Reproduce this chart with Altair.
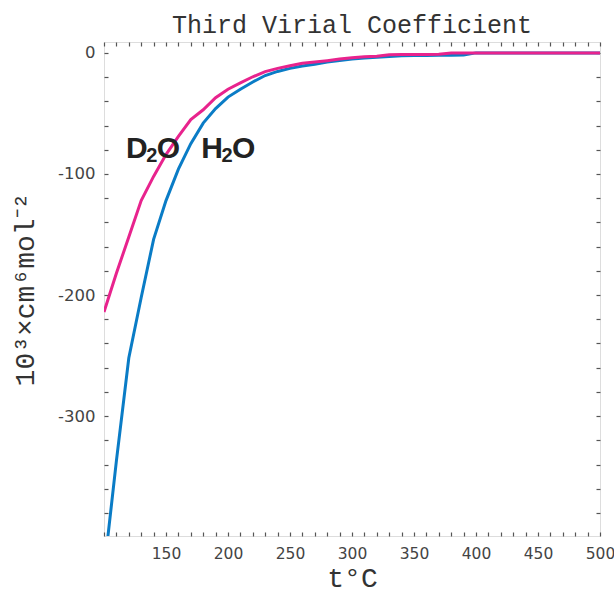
import altair as alt
import pandas as pd

temps = list(range(100, 501, 10))
h2o = [-428, -337, -252, -202, -154, -122, -96, -75, -58, -46, -36.5, -30, -24, -18.7,
       -15.3, -12.8, -10.9, -9.3, -7.6, -6.2, -5.0, -4.3, -3.6, -2.9, -2.4, -2.2, -2.1,
       -2.0, -2.0, -1.8, 0, 0, 0, 0, 0, 0, 0, 0, 0, 0, 0]
d2o = [-214, -182, -152, -122, -102, -84, -69, -55, -47, -37, -30, -24.8, -19.7, -15.5,
       -12.8, -10.6, -8.6, -7.5, -6.4, -5.1, -4.0, -3.2, -2.8, -1.6, -1.4, -1.4, -1.4,
       -1.2, 0, 0, 0, 0, 0, 0, 0, 0, 0, 0, 0, 0, 0]

# formula labels, split into main letters and subscripts
main_txt = ["D", "O", "H", "O"]
main_t = [126.4, 152.0, 187.1, 212.6]
main_v = [-86.8, -86.8, -86.8, -86.8]
sub_txt = ["2", "2"]
sub_t = [138.6, 199.2]
sub_v = [-89.8, -89.8]

x_ticks = list(range(100, 501, 10))
y_ticks = list(range(-380, 1, 20))

df_h = pd.DataFrame({"t": temps, "v": h2o})
df_d = pd.DataFrame({"t": temps, "v": d2o})
df_main = pd.DataFrame({"t": main_t, "v": main_v, "txt": main_txt})
df_sub = pd.DataFrame({"t": sub_t, "v": sub_v, "txt": sub_txt})

xs = alt.Scale(domain=[100, 500], nice=False, zero=False)
ys = alt.Scale(domain=[-399, 9], nice=False, zero=False)

axis_common = dict(domain=False, offset=-4, tickSize=4, tickColor="#555", tickWidth=1.2,
                   grid=False, labelFont="DejaVu Sans",
                   labelColor="#444", titleFont="Liberation Mono", titleFontSize=28,
                   titleFontWeight="normal", titleColor="#333")

x_axis = alt.Axis(orient="bottom", values=x_ticks,
                  labelExpr="datum.value % 50 == 0 && datum.value > 100 ? '' + datum.value : ''",
                  labelPadding=10, labelFontSize=15.5, title="t°C", titleX=248, titleY=54,
                  titleBaseline="alphabetic", labelFlush=False, labelOverlap=False, **axis_common)
y_axis = alt.Axis(orient="left", values=y_ticks,
                  labelExpr="datum.value % 100 == 0 ? '' + datum.value : ''",
                  labelPadding=9, labelFontSize=16.5, title="10³×cm⁶mol⁻²", titleX=-83, titleY=247,
                  titleAngle=-90, titleAlign="center", titleBaseline="middle",
                  labelFlush=False, labelOverlap=False, **axis_common)

x_top = alt.Axis(values=x_ticks, orient="top", labels=False, title=None, domain=False, offset=-4,
                 tickSize=4, tickColor="#555", tickWidth=1.2, grid=False)
y_right = alt.Axis(values=y_ticks, orient="right", labels=False, title=None, domain=False, offset=-4,
                   tickSize=4, tickColor="#555", tickWidth=1.2, grid=False)

enc = dict(x=alt.X("t:Q", scale=xs, axis=x_axis), y=alt.Y("v:Q", scale=ys, axis=y_axis))

blue = alt.Chart(df_h).mark_line(color="#0a7cc6", strokeWidth=3, clip=True).encode(**enc)
pink = alt.Chart(df_d).mark_line(color="#e8238d", strokeWidth=3, clip=True).encode(**enc)
big = alt.Chart(df_main).mark_text(font="Liberation Sans", fontWeight="bold", fontSize=30,
                                   color="#222", baseline="alphabetic", align="center").encode(
    text="txt:N", **enc)
small = alt.Chart(df_sub).mark_text(font="Liberation Sans", fontWeight="bold", fontSize=20,
                                    color="#222", baseline="alphabetic", align="center").encode(
    text="txt:N", **enc)
mirror = alt.Chart(df_d).mark_point(opacity=0).encode(
    x=alt.X("t:Q", scale=xs, axis=x_top),
    y=alt.Y("v:Q", scale=ys, axis=y_right),
)

main = alt.layer(blue, pink, big, small)

chart = alt.layer(main, mirror).resolve_axis(x="independent", y="independent").properties(
    width=496, height=494,
    autosize=alt.AutoSizeParams(type="none"),
    padding={"left": 104, "top": 42, "right": 14, "bottom": 60},
    title=alt.TitleParams("Third Virial Coefficient", font="Liberation Mono", fontSize=25,
                          fontWeight="normal", color="#333", anchor="middle", offset=3),
).configure_view(stroke="#555", strokeWidth=1.5).configure(background="white")

chart.save("out.html", embed_options={"renderer": "svg", "actions": False})
